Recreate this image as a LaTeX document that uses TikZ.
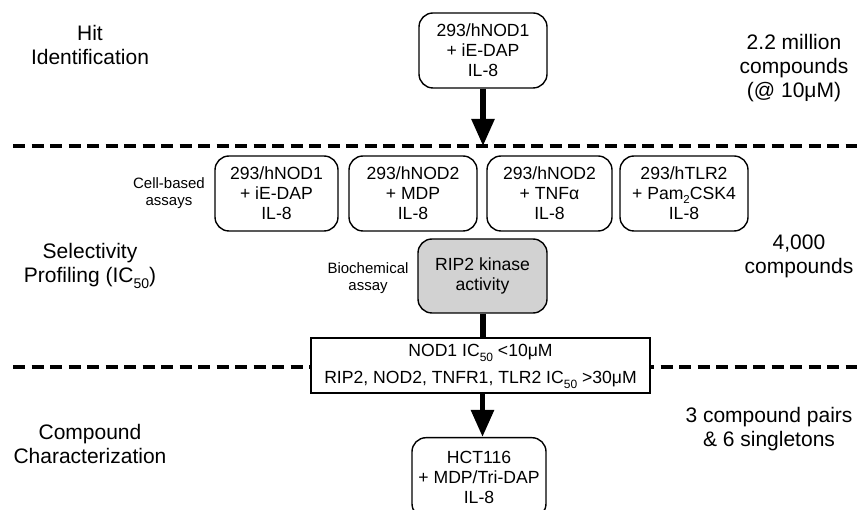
\documentclass[tikz,border=0pt]{standalone}
\usepackage{fontspec}
\setmainfont{Liberation Sans}
\usetikzlibrary{arrows.meta}
% lowered small text for subscripts (no effect on line spacing)
\newcommand\lowsub[3][0.3em]{\raisebox{-#1}[0pt][0pt]{\fontsize{#2}{#2}\selectfont #3}}
\begin{document}
\begin{tikzpicture}[x=1pt,y=-1pt,
  assay/.style={draw=black,line width=1.4pt,rounded corners=14pt,fill=white,
    align=center,inner sep=0pt,minimum height=75pt,
    font=\fontsize{17.6}{20}\selectfont},
  filterbox/.style={draw=black,line width=1.4pt,fill=white,align=center,
    inner sep=0pt,minimum width=339pt,minimum height=55pt,
    font=\fontsize{17.6}{27}\selectfont},
  phase/.style={align=center,font=\fontsize{21}{24.5}\selectfont},
  tally/.style={align=center,font=\fontsize{21}{24}\selectfont},
  smalllabel/.style={align=center,font=\fontsize{15}{17}\selectfont},
  divider/.style={line width=3.2pt,dash pattern=on 12pt off 6.5pt},
  flow/.style={line width=5.5pt,-{Triangle[width=22pt,length=27pt]}},
  link/.style={line width=6pt}]
\useasboundingbox (0,0) rectangle (857,510);

% phase dividers
\draw[divider] (13,146) -- (857,146);
\draw[divider] (13,367) -- (857,367);

% phase names
\node[phase] (phit) at (90,45) {Hit\\Identification};
\node[phase] (psel) at (90,265) {Selectivity\\Profiling (IC\lowsub{14}{50})};
\node[phase] (pchar) at (90,444) {Compound\\Characterization};

% compound counts
\node[tally] (nhit) at (794,68) {2.2 million\\compounds\\(@ 10μM)};
\node[tally] (nsel) at (799,256) {4,000\\compounds};
\node[tally] (nchar) at (769,429) {3 compound pairs\\\& 6 singletons};

% primary screen
\node[assay,minimum width=128pt] (screen) at (483,50.5) {293/hNOD1\\+ iE-DAP\\IL-8};
\coordinate (screenend) at (483,146);
\draw[flow] (screen.south) -- (screenend);

% cell-based selectivity assays
\node[smalllabel] (cellnote) at (169,193) {Cell-based\\assays};
\node[assay,minimum width=123pt] (nod1) at (276.5,193.5) {293/hNOD1\\+ iE-DAP\\IL-8};
\node[assay,minimum width=128pt] (nod2) at (413,193.5) {293/hNOD2\\+ MDP\\IL-8};
\node[assay,minimum width=125pt] (tnf) at (549.5,193.5) {293/hNOD2\\+ TNFα\\IL-8};
\node[assay,minimum width=128pt] (tlr2) at (684,193.5) {293/hTLR2\\+ Pam\lowsub[0.2em]{11.5}{2}CSK4\\IL-8};

% biochemical assay
\node[smalllabel] (biochem) at (368,278) {Biochemical\\assay};
\node[assay,fill=gray!35,minimum width=129pt,minimum height=74pt] (rip2) at (482.5,276) {RIP2 kinase\\activity};

% selection criteria
\node[filterbox] (criteria) at (480.5,365.5) {NOD1 IC\lowsub{12}{50} <10μM\\RIP2, NOD2, TNFR1, TLR2 IC\lowsub{12}{50} >30μM};
\draw[link] (rip2.south) -- (rip2.south |- criteria.north);

% follow-up assay
\node[assay,minimum width=134pt,minimum height=80pt,anchor=north] (hct) at (479,437) {HCT116\\+ MDP/Tri-DAP\\IL-8};
\draw[flow] (criteria.south -| rip2.south) -- (hct.north -| rip2.south);
\end{tikzpicture}
\end{document}
